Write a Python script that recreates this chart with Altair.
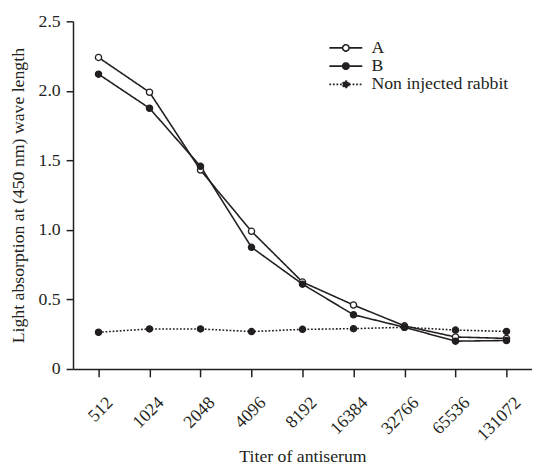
import altair as alt
import pandas as pd

titers = ["512", "1024", "2048", "4096", "8192", "16384", "32766", "65536", "131072"]
series_names = ["A", "B", "Non injected rabbit"]
values_a = [2.24, 1.99, 1.43, 0.99, 0.625, 0.46, 0.31, 0.23, 0.22]
values_b = [2.12, 1.875, 1.457, 0.875, 0.61, 0.39, 0.30, 0.20, 0.205]
values_ni = [0.264, 0.288, 0.288, 0.269, 0.285, 0.29, 0.30, 0.28, 0.27]

rows = []
for name, vals in zip(series_names, [values_a, values_b, values_ni]):
    for t, v in zip(titers, vals):
        rows.append({"titer": t, "value": v, "series": name})
df = pd.DataFrame(rows)

FONT = "Liberation Serif"
INK = "#231f20"

x_enc = alt.X(
    "titer:N",
    sort=titers,
    scale=alt.Scale(type="point", padding=0.5),
    axis=alt.Axis(
        title="Titer of antiserum",
        labelAngle=315,
        labelAlign="right",
        labelBaseline="top",
        labelPadding=17,
        labelOffset=5,
        tickSize=8,
        titleX=233,
        titleY=94,
        titleBaseline="alphabetic",
        titleAlign="center",
    ),
)
y_enc = alt.Y(
    "value:Q",
    scale=alt.Scale(domain=[0, 2.5], nice=False),
    axis=alt.Axis(
        title="Light absorption at (450 nm) wave length",
        values=[0, 0.5, 1.0, 1.5, 2.0, 2.5],
        labelExpr="datum.value == 0 ? '0' : format(datum.value, '.1f')",
        tickSize=7,
        labelPadding=6,
        titleX=-50,
        titleY=176.5,
        titleAngle=270,
        titleBaseline="alphabetic",
        titleAlign="center",
    ),
)

is_ni = "datum.series == 'Non injected rabbit'"
is_a = "datum.series == 'A'"

lines = alt.Chart(df).mark_line(color=INK, strokeWidth=1.6).encode(
    x=x_enc,
    y=y_enc,
    detail="series:N",
    strokeWidth=alt.condition(is_ni, alt.value(2.2), alt.value(1.6)),
    strokeDash=alt.condition(is_ni, alt.value([1.8, 1.8]), alt.value([1, 0])),
)

points = alt.Chart(df).mark_point(
    filled=True, size=40, stroke=INK, strokeWidth=1.3, opacity=1
).encode(
    x=x_enc,
    y=y_enc,
    fill=alt.condition(is_a, alt.value("white"), alt.value(INK)),
)

sym = "M-3.34,0L-0.65,0M0.65,0L3.34,0M0.65,0A0.65,0.65,0,1,1,-0.65,0A0.65,0.65,0,1,1,0.65,0Z"
leg = alt.Legend(
    title=None,
    orient="none",
    legendX=268,
    legendY=18,
    padding=0,
    labelOffset=17,
    rowPadding=0.5,
    labelFont=FONT,
    labelFontSize=18,
    labelColor=INK,
    labelLimit=400,
    symbolStrokeWidth=1.6,
)
legend_layer = alt.Chart(df).mark_point(
    filled=True, size=100, strokeWidth=1.6, opacity=1
).transform_filter("false").encode(
    shape=alt.Shape("series:N", scale=alt.Scale(domain=series_names, range=[sym, sym, sym]), legend=leg),
    fill=alt.Fill("series:N", scale=alt.Scale(domain=series_names, range=["white", INK, INK]), legend=leg),
    stroke=alt.Stroke("series:N", scale=alt.Scale(domain=series_names, range=[INK, INK, INK]), legend=leg),
    strokeDash=alt.StrokeDash("series:N", scale=alt.Scale(domain=series_names, range=[[1, 0], [1, 0], [1.8, 1.8]]), legend=leg),
)

chart = alt.layer(lines, points, legend_layer).properties(
    width=466,
    height=353,
    autosize=alt.AutoSizeParams(type="none"),
    padding={"left": 66, "top": 10, "right": 0, "bottom": 96},
).configure_view(stroke=None).configure_axis(
    grid=False,
    domainColor=INK,
    domainWidth=1.5,
    tickColor=INK,
    tickWidth=1.5,
    labelColor=INK,
    titleColor=INK,
    labelFont=FONT,
    titleFont=FONT,
    labelFontSize=18,
    titleFontSize=18,
    titleFontWeight="normal",
)

chart.save("out.html", embed_options={"renderer": "svg", "actions": False})
